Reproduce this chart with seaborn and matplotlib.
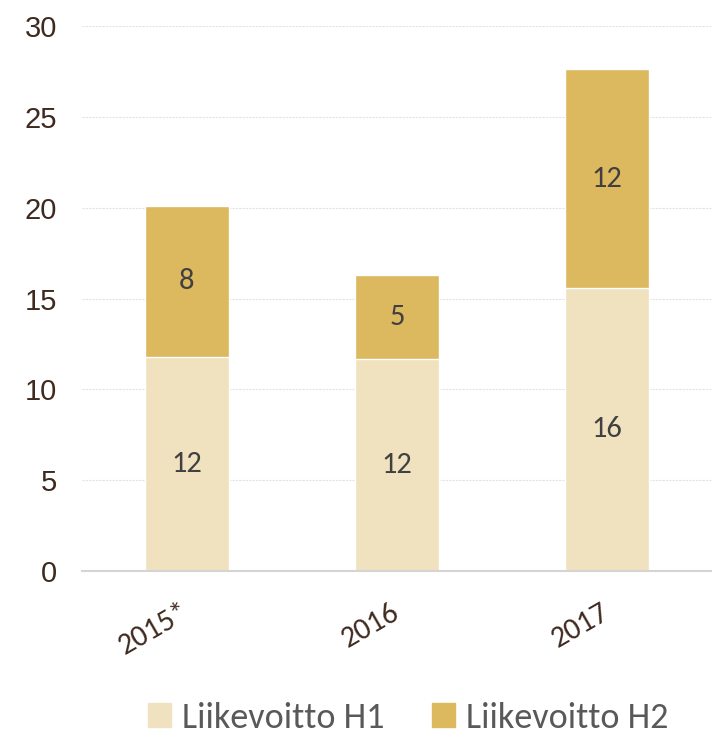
import matplotlib
matplotlib.use("Agg")
import matplotlib.pyplot as plt
import seaborn as sns
import pandas as pd

years = ["2015*", "2016", "2017"]
h1 = [11.8, 11.7, 15.6]
h2 = [8.3, 4.6, 12.0]
yticks = [0, 5, 10, 15, 20, 25, 30]

c_h1 = "#f1e2bf"
c_h2 = "#dcb85e"
txt_axis = "#3f2a20"
txt_lab = "#404040"
body_font = ["Carlito", "Liberation Sans Narrow", "DejaVu Sans"]

sns.set_theme(style="white")
plt.rcParams["font.family"] = ["Liberation Sans Narrow", "Liberation Sans", "DejaVu Sans"]

df = pd.DataFrame({"year": years, "h1": h1, "h2": h2})
df["total"] = df["h1"] + df["h2"]

fig = plt.figure(figsize=(7.12, 7.38), dpi=100)
ax = fig.add_axes([0.115, 0.226, 0.885, 0.739])

# stacked: full totals first in H2 colour, H1 on top of it
sns.barplot(data=df, x="year", y="total", color=c_h2, saturation=1, width=0.4, ax=ax)
sns.barplot(data=df, x="year", y="h1", color=c_h1, saturation=1, width=0.4, ax=ax)

ax.bar_label(ax.containers[1], labels=[f"{v:.0f}" for v in h1], label_type="center",
             fontsize=22, color=txt_lab, family=body_font)
for i, (a, b) in enumerate(zip(h1, h2)):
    ax.text(i, a + b / 2, f"{b:.0f}", ha="center", va="center", fontsize=22, color=txt_lab,
            family=body_font)

ax.set_ylim(0, 30)
ax.set_xlim(-0.5, 2.5)
ax.set_yticks(yticks)
ax.set_yticklabels([str(t) for t in yticks], fontsize=21, color=txt_axis)
ax.set_xticks(range(len(years)))
ax.set_xticklabels(years, rotation=30, fontsize=22, color=txt_axis, family=body_font,
                   ha="right", va="center", rotation_mode="anchor")
ax.tick_params(axis="both", length=0)
ax.tick_params(axis="y", pad=18)
ax.tick_params(axis="x", pad=28)
ax.set_xlabel("")
ax.set_ylabel("")
ax.yaxis.grid(True, color="#e3e3e3", linewidth=0.8, linestyle=(0, (2, 1)))
ax.set_axisbelow(True)
for s in ["left", "right", "top"]:
    ax.spines[s].set_visible(False)
ax.spines["bottom"].set_color("#d4d4d4")
ax.spines["bottom"].set_linewidth(1.5)

handles = [plt.Rectangle((0, 0), 1, 1, color=c_h1), plt.Rectangle((0, 0), 1, 1, color=c_h2)]
leg = fig.legend(handles, ["Liikevoitto H1", "Liikevoitto H2"], loc="center",
                 bbox_to_anchor=(0.573, 0.027), ncol=2, frameon=False,
                 handlelength=0.65, handleheight=0.65, handletextpad=0.3, columnspacing=1.3,
                 prop={"family": body_font, "size": 26})
for t in leg.get_texts():
    t.set_color("#595959")

fig.savefig("out.png", dpi=100)
